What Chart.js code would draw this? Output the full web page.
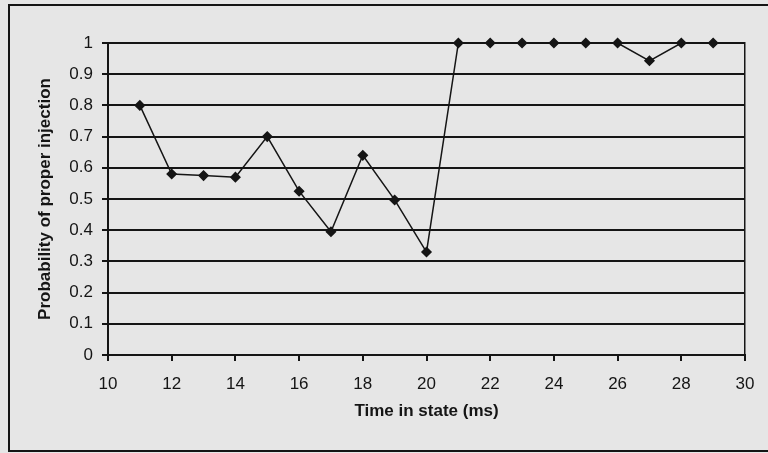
<!DOCTYPE html>
<html>
<head>
<meta charset="utf-8">
<script src="https://cdn.jsdelivr.net/npm/chart.js@4"></script>
<style>
  body { margin: 0; background: #e6e6e6; }
  canvas { display: block; }
</style>
</head>
<body>
<canvas id="myChart" width="768" height="453"></canvas>
<script>
// time in state (ms) and measured probability
const times = [11, 12, 13, 14, 15, 16, 17, 18, 19, 20, 21, 22, 23, 24, 25, 26, 27, 28, 29];
const probabilities = [0.80, 0.58, 0.575, 0.57, 0.70, 0.525, 0.395, 0.64, 0.497, 0.33,
  1, 1, 1, 1, 1, 1, 0.943, 1, 1];

const xTitle = "Time in state (ms)";
const yTitle = "Probability of proper injection";

const ink = "#151515";
const font = "'Liberation Sans', Arial, sans-serif";

// paper background + outer frame
const paper = {
  id: "paper",
  beforeDraw: (chart) => {
    const ctx = chart.ctx;
    ctx.save();
    ctx.fillStyle = "#e6e6e6";
    ctx.fillRect(0, 0, chart.width, chart.height);
    ctx.strokeStyle = ink;
    ctx.lineWidth = 2;
    ctx.strokeRect(9, 5, chart.width + 20, 446);
    ctx.restore();
  },
};

const data = {
  datasets: [
    {
      label: "probability",
      data: times.map((t, i) => ({ x: t, y: probabilities[i] })),
      borderColor: ink,
      backgroundColor: ink,
      borderWidth: 1.5,
      pointStyle: "rectRot",
      pointRadius: 4.5,
      pointHoverRadius: 4.5,
      tension: 0,
      clip: false,
    },
  ],
};

const config = {
  type: "line",
  data: data,
  options: {
    responsive: false,
    animation: false,
    layout: {
      padding: { top: 43, right: 23, left: 0, bottom: 0 },
    },
    plugins: {
      legend: { display: false },
      tooltip: { enabled: false },
    },
    scales: {
      x: {
        type: "linear",
        min: 10,
        max: 30,
        afterFit: (scale) => {
          scale.height = 98;
        },
        ticks: {
          stepSize: 2,
          color: ink,
          padding: 13,
          font: { family: font, size: 17 },
        },
        grid: {
          drawOnChartArea: false,
          drawTicks: true,
          tickLength: 6,
          color: ink,
          lineWidth: 2,
        },
        border: { color: ink, width: 2 },
        title: {
          display: true,
          text: xTitle,
          color: ink,
          font: { family: font, size: 17, weight: "bold" },
          padding: { top: 0, bottom: 31 },
        },
      },
      y: {
        min: 0,
        max: 1,
        afterFit: (scale) => {
          scale.width = 108;
        },
        ticks: {
          stepSize: 0.1,
          color: ink,
          padding: 9,
          font: { family: font, size: 17 },
          callback: (v) => String(Math.round(v * 10) / 10),
        },
        grid: {
          color: ink,
          lineWidth: 2,
          tickLength: 6,
        },
        border: { color: ink, width: 2 },
        title: {
          display: true,
          text: yTitle,
          color: ink,
          font: { family: font, size: 17, weight: "bold" },
          padding: { top: 35, bottom: 0 },
        },
      },
      // right-hand frame of the plot area
      y2: {
        position: "right",
        min: 0,
        max: 1,
        afterFit: (scale) => {
          scale.width = 0;
        },
        ticks: { display: false },
        grid: { drawOnChartArea: false, drawTicks: false },
        border: { color: ink, width: 1.5 },
      },
    },
  },
  plugins: [paper],
};

const ctx = document.getElementById("myChart").getContext("2d");
const myChart = new Chart(ctx, config);
</script>
</body>
</html>
